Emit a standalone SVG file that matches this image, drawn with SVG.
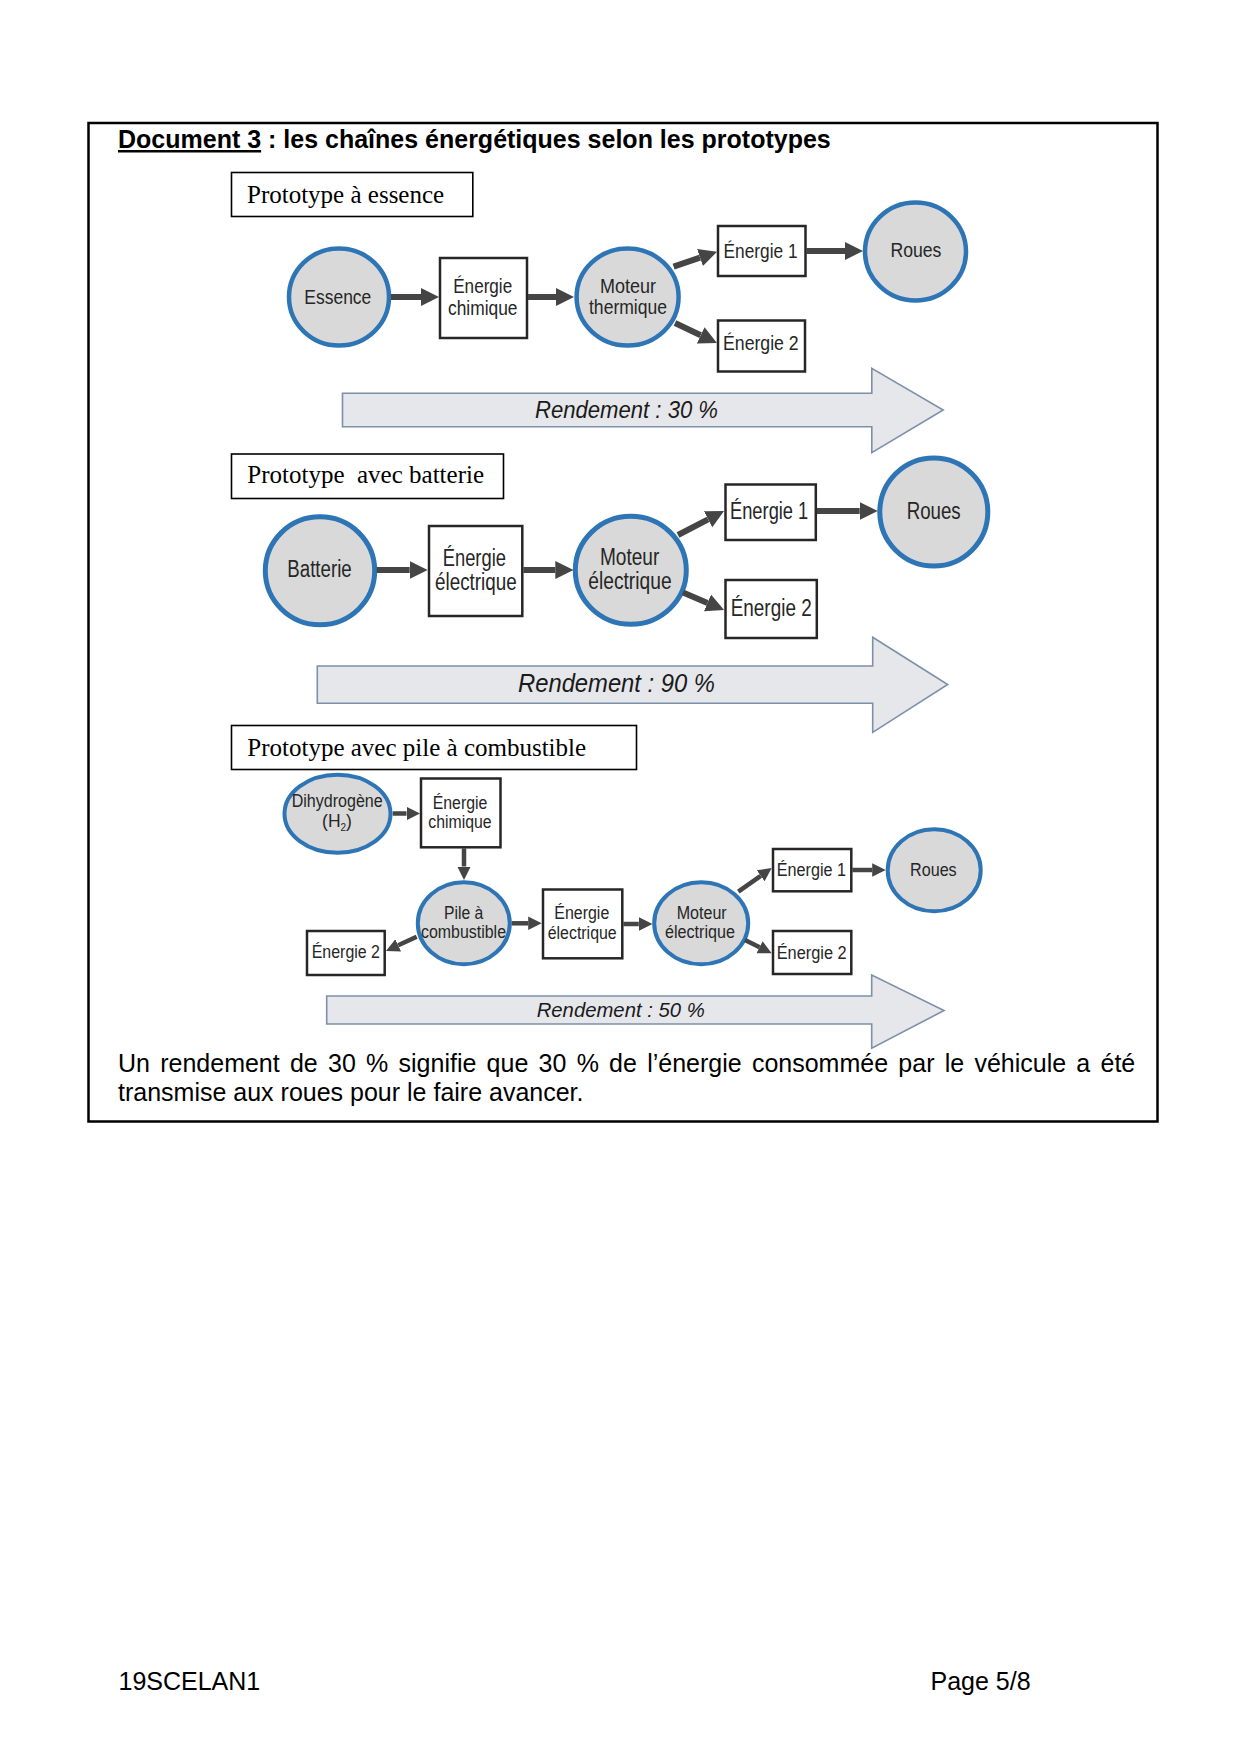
<svg xmlns="http://www.w3.org/2000/svg" width="1240" height="1754" viewBox="0 0 1240 1754">
<style>
.sans{font-family:"Liberation Sans",Arial,sans-serif;}
.serif{font-family:"Liberation Serif","Times New Roman",serif;font-size:25px;fill:#000;}
.node{fill:#d9d9d9;stroke:#2e75b6;}
.box{fill:#fff;stroke:#262626;stroke-width:2.5;}
.lbl{fill:none;stroke:#000;stroke-width:1.6;}
.lab{font-family:"Liberation Sans",Arial,sans-serif;fill:#262626;}
.s1{font-size:20px;}
.s2{font-size:23px;}
.s3{font-size:17.5px;}
.big{fill:#e6e7ea;stroke:#7d90aa;stroke-width:1.6;}
.rend{font-family:"Liberation Sans",Arial,sans-serif;font-style:italic;fill:#1a1a1a;}
.con{stroke:#454545;fill:none;stroke-linecap:butt;}
.w6{stroke-width:6;}
.w4{stroke-width:4.5;}
</style>
<defs>
<marker id="ah" viewBox="0 0 10 10" refX="0" refY="5" markerWidth="3" markerHeight="3.6" markerUnits="strokeWidth" orient="auto">
<path d="M0,0 L10,5 L0,10 z" fill="#454545"/>
</marker>
</defs>
<rect width="1240" height="1754" fill="#fff"/>

<g id="frame">
<rect x="88.5" y="123" width="1069" height="998.5" fill="none" stroke="#000" stroke-width="2.5"/>
<text class="sans" x="118" y="148" font-size="25" font-weight="bold" fill="#000"><tspan text-decoration="underline">Document 3</tspan> : les chaînes énergétiques selon les prototypes</text>
</g>

<!-- Section 1 -->
<g id="label-essence">
<rect class="lbl" x="231.5" y="172.5" width="241.3" height="44"/>
<text class="serif" x="247" y="203">Prototype à essence</text>
</g>
<g id="essence">
<ellipse class="node" cx="339" cy="297" rx="50" ry="48.5" stroke-width="4.5"/>
<text class="lab s1" x="304.3" y="303.5" textLength="67" lengthAdjust="spacingAndGlyphs">Essence</text>
</g>
<g id="energie-chimique-1">
<rect class="box" x="440" y="258" width="87" height="80"/>
<text class="lab s1" x="453.2" y="293" textLength="59" lengthAdjust="spacingAndGlyphs">Énergie</text>
<text class="lab s1" x="448" y="315" textLength="69.5" lengthAdjust="spacingAndGlyphs">chimique</text>
</g>
<g id="moteur-thermique">
<ellipse class="node" cx="627.6" cy="297" rx="51" ry="48.5" stroke-width="4.5"/>
<text class="lab s1" x="600" y="292.5" textLength="56" lengthAdjust="spacingAndGlyphs">Moteur</text>
<text class="lab s1" x="589" y="314" textLength="78" lengthAdjust="spacingAndGlyphs">thermique</text>
</g>
<g id="energie1-1">
<rect class="box" x="718" y="226" width="87.5" height="50"/>
<text class="lab s1" x="723.6" y="258.3" textLength="74" lengthAdjust="spacingAndGlyphs">Énergie 1</text>
</g>
<g id="energie2-1">
<rect class="box" x="718" y="320.5" width="87" height="51"/>
<text class="lab s1" x="723" y="350" textLength="75.7" lengthAdjust="spacingAndGlyphs">Énergie 2</text>
</g>
<g id="roues-1">
<ellipse class="node" cx="915.5" cy="251.5" rx="50.5" ry="49" stroke-width="4.5"/>
<text class="lab s1" x="890.4" y="256.7" textLength="51" lengthAdjust="spacingAndGlyphs">Roues</text>
</g>
<g id="rendement-30">
<polygon class="big" points="342.5,393.3 871.8,393.3 871.8,368.3 943.2,410 871.8,452.7 871.8,426.7 342.5,426.7"/>
<text class="rend" x="535" y="418" font-size="23" textLength="183" lengthAdjust="spacingAndGlyphs">Rendement : 30 %</text>
</g>

<!-- Section 2 -->
<g id="label-batterie">
<rect class="lbl" x="231.5" y="454" width="272" height="44.5"/>
<text class="serif" x="247.3" y="483.3" xml:space="preserve">Prototype  avec batterie</text>
</g>
<g id="batterie">
<ellipse class="node" cx="320" cy="570.8" rx="54.7" ry="54" stroke-width="5"/>
<text class="lab s2" x="287.3" y="577" textLength="64.4" lengthAdjust="spacingAndGlyphs">Batterie</text>
</g>
<g id="energie-electrique-2">
<rect class="box" x="429" y="526" width="93.3" height="90"/>
<text class="lab s2" x="442.7" y="566" textLength="63.3" lengthAdjust="spacingAndGlyphs">Énergie</text>
<text class="lab s2" x="435" y="590" textLength="81.7" lengthAdjust="spacingAndGlyphs">électrique</text>
</g>
<g id="moteur-electrique-2">
<ellipse class="node" cx="630.8" cy="570.3" rx="55.5" ry="54" stroke-width="5"/>
<text class="lab s2" x="600" y="565" textLength="59.3" lengthAdjust="spacingAndGlyphs">Moteur</text>
<text class="lab s2" x="588.3" y="589" textLength="83.3" lengthAdjust="spacingAndGlyphs">électrique</text>
</g>
<g id="energie1-2">
<rect class="box" x="725.5" y="484.5" width="90.3" height="55.5"/>
<text class="lab s2" x="730" y="518.5" textLength="78.3" lengthAdjust="spacingAndGlyphs">Énergie 1</text>
</g>
<g id="energie2-2">
<rect class="box" x="725.5" y="580" width="91.3" height="58"/>
<text class="lab s2" x="730.7" y="615.5" textLength="81" lengthAdjust="spacingAndGlyphs">Énergie 2</text>
</g>
<g id="roues-2">
<ellipse class="node" cx="933.8" cy="512" rx="54" ry="54" stroke-width="5"/>
<text class="lab s2" x="906.7" y="518.5" textLength="54" lengthAdjust="spacingAndGlyphs">Roues</text>
</g>
<g id="rendement-90">
<polygon class="big" points="317.3,666 872.7,666 872.7,637.3 947.7,684.5 872.7,732.3 872.7,703.3 317.3,703.3"/>
<text class="rend" x="518" y="692" font-size="26" textLength="197" lengthAdjust="spacingAndGlyphs">Rendement : 90 %</text>
</g>

<!-- Section 3 -->
<g id="label-pile">
<rect class="lbl" x="231.5" y="725.5" width="405" height="44"/>
<text class="serif" x="247.3" y="755.7">Prototype avec pile à combustible</text>
</g>
<g id="dihydrogene">
<ellipse class="node" cx="337.5" cy="813.8" rx="53" ry="39" stroke-width="4"/>
<text class="lab s3" x="291.7" y="807.3" textLength="91" lengthAdjust="spacingAndGlyphs">Dihydrogène</text>
<text class="lab s3" x="337" y="827.3" text-anchor="middle">(H<tspan font-size="10" dy="4">2</tspan><tspan dy="-4">)</tspan></text>
</g>
<g id="energie-chimique-3">
<rect class="box" x="421" y="778.5" width="79.5" height="68.8"/>
<text class="lab s3" x="432.7" y="809.3" textLength="54.7" lengthAdjust="spacingAndGlyphs">Énergie</text>
<text class="lab s3" x="428.3" y="828.3" textLength="63.3" lengthAdjust="spacingAndGlyphs">chimique</text>
</g>
<g id="pile-combustible">
<ellipse class="node" cx="463.8" cy="923.3" rx="46" ry="41" stroke-width="4"/>
<text class="lab s3" x="444" y="919.3" textLength="39.3" lengthAdjust="spacingAndGlyphs">Pile à</text>
<text class="lab s3" x="421" y="938.3" textLength="85" lengthAdjust="spacingAndGlyphs">combustible</text>
</g>
<g id="energie2-pile">
<rect class="box" x="307" y="931" width="77.7" height="44"/>
<text class="lab s3" x="311.7" y="958.3" textLength="68.3" lengthAdjust="spacingAndGlyphs">Énergie 2</text>
</g>
<g id="energie-electrique-3">
<rect class="box" x="543" y="889.5" width="79.3" height="68.8"/>
<text class="lab s3" x="554.3" y="919" textLength="55" lengthAdjust="spacingAndGlyphs">Énergie</text>
<text class="lab s3" x="547.7" y="939" textLength="69" lengthAdjust="spacingAndGlyphs">électrique</text>
</g>
<g id="moteur-electrique-3">
<ellipse class="node" cx="701.2" cy="923.3" rx="47" ry="41" stroke-width="4"/>
<text class="lab s3" x="676.7" y="919.3" textLength="50" lengthAdjust="spacingAndGlyphs">Moteur</text>
<text class="lab s3" x="665" y="937.7" textLength="70" lengthAdjust="spacingAndGlyphs">électrique</text>
</g>
<g id="energie1-3">
<rect class="box" x="773" y="849" width="78.3" height="42.3"/>
<text class="lab s3" x="776.7" y="875.5" textLength="69.3" lengthAdjust="spacingAndGlyphs">Énergie 1</text>
</g>
<g id="energie2-3">
<rect class="box" x="773" y="931" width="78.3" height="43"/>
<text class="lab s3" x="776.7" y="958.5" textLength="70" lengthAdjust="spacingAndGlyphs">Énergie 2</text>
</g>
<g id="roues-3">
<ellipse class="node" cx="934.2" cy="870.3" rx="46.5" ry="41" stroke-width="4"/>
<text class="lab s3" x="910" y="876.3" textLength="46.7" lengthAdjust="spacingAndGlyphs">Roues</text>
</g>
<g id="rendement-50">
<polygon class="big" points="326.7,996 871.7,996 871.7,975 944,1010.5 871.7,1048.3 871.7,1024 326.7,1024"/>
<text class="rend" x="536.7" y="1017" font-size="21" textLength="168" lengthAdjust="spacingAndGlyphs">Rendement : 50 %</text>
</g>

<g id="connectors">
<line class="con w6" x1="391" y1="297" x2="421" y2="297" marker-end="url(#ah)"/>
<line class="con w6" x1="528" y1="297" x2="556" y2="297" marker-end="url(#ah)"/>
<line class="con w6" x1="673.6" y1="266.7" x2="700" y2="257.6" marker-end="url(#ah)"/>
<line class="con w6" x1="675" y1="323" x2="700.7" y2="335.3" marker-end="url(#ah)"/>
<line class="con w6" x1="806" y1="251" x2="845" y2="251" marker-end="url(#ah)"/>

<line class="con w6" x1="376.7" y1="570" x2="409.7" y2="570" marker-end="url(#ah)"/>
<line class="con w6" x1="523.3" y1="570" x2="555.3" y2="570" marker-end="url(#ah)"/>
<line class="con w6" x1="678" y1="535" x2="708.1" y2="519.3" marker-end="url(#ah)"/>
<line class="con w6" x1="683" y1="592.5" x2="707.5" y2="602.9" marker-end="url(#ah)"/>
<line class="con w6" x1="817" y1="511" x2="859.7" y2="511" marker-end="url(#ah)"/>

<line class="con w4" x1="392.7" y1="813.5" x2="406.5" y2="813.5" marker-end="url(#ah)"/>
<line class="con w4" x1="464" y1="848.3" x2="464" y2="866.5" marker-end="url(#ah)"/>
<line class="con w4" x1="416.7" y1="936.7" x2="398.2" y2="945.3" marker-end="url(#ah)"/>
<line class="con w4" x1="511.7" y1="923.3" x2="528.2" y2="923.3" marker-end="url(#ah)"/>
<line class="con w4" x1="623.3" y1="924" x2="638.8" y2="924" marker-end="url(#ah)"/>
<line class="con w4" x1="738.3" y1="891.7" x2="760.7" y2="875.8" marker-end="url(#ah)"/>
<line class="con w4" x1="745" y1="940" x2="759.6" y2="947.3" marker-end="url(#ah)"/>
<line class="con w4" x1="852.3" y1="870" x2="872.2" y2="870" marker-end="url(#ah)"/>
</g>

<g id="paragraph">
<text class="sans" x="118" y="1072" font-size="25" fill="#000" word-spacing="3.3">Un rendement de 30 % signifie que 30 % de l’énergie consommée par le véhicule a été</text>
<text class="sans" x="118" y="1101" font-size="25" fill="#000">transmise aux roues pour le faire avancer.</text>
</g>

<g id="footer">
<text class="sans" x="118.5" y="1690" font-size="25" fill="#000">19SCELAN1</text>
<text class="sans" x="930.5" y="1690" font-size="25" fill="#000">Page 5/8</text>
</g>
</svg>
